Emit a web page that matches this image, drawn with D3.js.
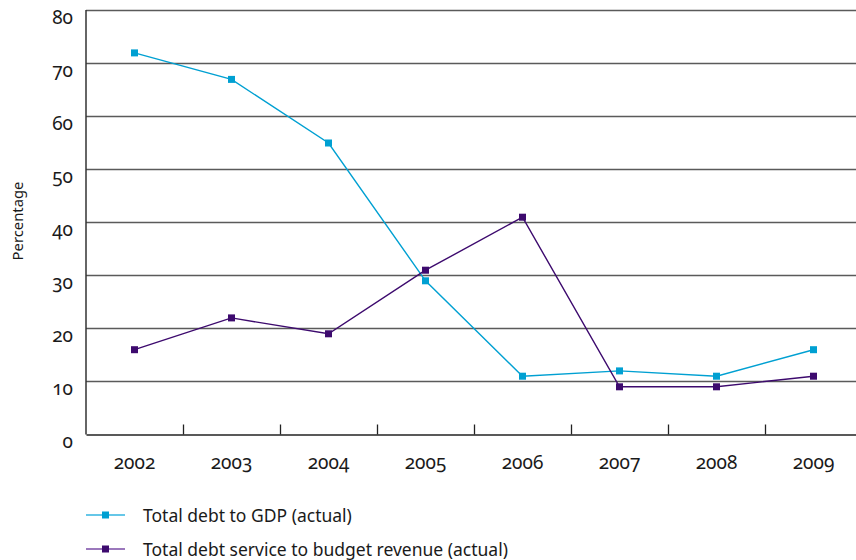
<!DOCTYPE html>
<html><head><meta charset="utf-8">
<script src="https://cdn.jsdelivr.net/npm/d3@7"></script>
<style>
body{margin:0;background:#fff;}
svg{display:block;font-family:"Noto Sans",sans-serif;}
.num{font-variant-numeric:oldstyle-nums;font-feature-settings:"onum" 1;}
</style></head><body>
<svg id="c" width="856" height="560"></svg>
<script>
const years = ["2002","2003","2004","2005","2006","2007","2008","2009"];
const debtToGDP = [72,67,55,29,11,12,11,16];
const debtService = [16,22,19,31,41,9,9,11];
const yTicks = [0,10,20,30,40,50,60,70,80];
const seriesNames = ["Total debt to GDP (actual)","Total debt service to budget revenue (actual)"];
const colors = ["#00a0d2","#3d0a6e"];
const legendLineColors = ["#33b4e0","#7a4ba6"];

const svg = d3.select("#c");
const x = d3.scaleBand().domain(years).range([86,862]);
const y = d3.scaleLinear().domain([0,80]).range([434.5,10.5]);

// gridlines
svg.append("g").selectAll("line").data(yTicks.filter(d=>d>0)).join("line")
  .attr("x1",86).attr("x2",856).attr("y1",d=>y(d)).attr("y2",d=>y(d))
  .attr("stroke","#5a5a5a").attr("stroke-width",1.5);

// y labels
svg.append("g").selectAll("text").data(yTicks).join("text").attr("class","num")
  .attr("x",73).attr("y",d=>y(d)+13.5).attr("text-anchor","end")
  .attr("font-size",19).attr("fill","#1a1a1a").text(d=>d);

// y axis line
svg.append("line").attr("x1",86).attr("x2",86).attr("y1",y(80)-0.5).attr("y2",y(0))
  .attr("stroke","#333").attr("stroke-width",1.5);

// x axis
const xAxis = d3.axisBottom(x).tickSizeInner(-10).tickSizeOuter(0).tickFormat("");
const gx = svg.append("g").attr("transform",`translate(0,${y(0)})`).call(xAxis);
gx.select(".domain").attr("stroke","#222").attr("stroke-width",1.5);
gx.selectAll(".tick").remove();
svg.append("g").selectAll("line").data(years.slice(1)).join("line")
  .attr("x1",d=>Math.round(x(d))+0.5).attr("x2",d=>Math.round(x(d))+0.5)
  .attr("y1",y(0)-10).attr("y2",y(0)).attr("stroke","#222").attr("stroke-width",1.3);
svg.append("g").selectAll("text").data(years).join("text").attr("class","num")
  .attr("x",d=>x(d)+x.bandwidth()/2).attr("y",468.5).attr("text-anchor","middle")
  .attr("font-size",19).attr("fill","#1a1a1a").text(d=>d);

// y title
svg.append("text").attr("transform","translate(23,221) rotate(-90)").attr("text-anchor","middle")
  .attr("font-size",14.8).attr("fill","#1a1a1a").text("Percentage");

// series
const cx = d=>x(d)+x.bandwidth()/2;
[debtToGDP,debtService].forEach((vals,i)=>{
  const data = years.map((yr,j)=>({yr,v:vals[j]}));
  svg.append("path").datum(data)
    .attr("d",d3.line().x(d=>cx(d.yr)).y(d=>y(d.v)))
    .attr("fill","none").attr("stroke",colors[i]).attr("stroke-width",1.4);
  svg.append("g").selectAll("rect").data(data).join("rect")
    .attr("x",d=>cx(d.yr)-3.5).attr("y",d=>y(d.v)-3.5).attr("width",7).attr("height",7)
    .attr("fill",colors[i]);
});

// legend
const lg = svg.append("g");
seriesNames.forEach((name,i)=>{
  const ly = 515 + i*34;
  lg.append("line").attr("x1",86).attr("x2",125).attr("y1",ly).attr("y2",ly)
    .attr("stroke",legendLineColors[i]).attr("stroke-width",1.5);
  lg.append("rect").attr("x",102).attr("y",ly-3.5).attr("width",7).attr("height",7).attr("fill",colors[i]);
  lg.append("text").attr("x",143).attr("y",ly+7).attr("font-size",17.5).attr("fill","#1a1a1a").text(name);
});
</script></body></html>
